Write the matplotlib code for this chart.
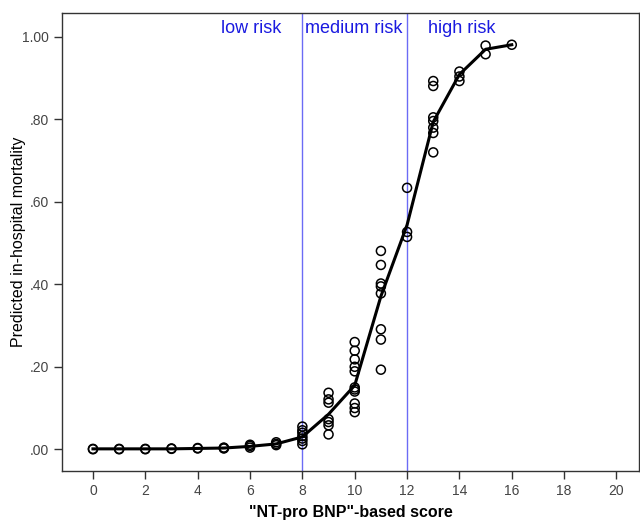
import numpy as np
import matplotlib.pyplot as plt
from matplotlib.ticker import FuncFormatter

plt.rcParams['font.family'] = ['Liberation Sans', 'DejaVu Sans']

# observed predicted mortality per score
score_pts = ([0, 0, 1, 1, 2, 2, 3, 3, 4, 4, 5, 5, 5]
             + [6, 6, 6, 7, 7, 7]
             + [8] * 7 + [9] * 7 + [10] * 11 + [11] * 8
             + [12] * 3 + [13] * 7 + [14] * 3 + [15] * 2 + [16])
mort_pts = ([0.0, 0.001, 0.0, 0.001, 0.0, 0.001, 0.001, 0.002, 0.002, 0.003, 0.002, 0.003, 0.004]
            + [0.004, 0.008, 0.011, 0.010, 0.013, 0.017]
            + [0.012, 0.020, 0.026, 0.032, 0.040, 0.046, 0.055]
            + [0.137, 0.121, 0.113, 0.073, 0.066, 0.058, 0.036]
            + [0.260, 0.239, 0.218, 0.200, 0.189, 0.150, 0.145, 0.140, 0.111, 0.100, 0.090]
            + [0.481, 0.447, 0.402, 0.395, 0.378, 0.291, 0.266, 0.193]
            + [0.634, 0.527, 0.515]
            + [0.893, 0.881, 0.805, 0.796, 0.780, 0.767, 0.720]
            + [0.916, 0.904, 0.893]
            + [0.979, 0.958]
            + [0.981])

# mean curve
score_line = [0, 1, 2, 3, 4, 5, 6, 7, 8, 9, 10, 11, 12, 13, 14, 15, 16]
mort_line = [0.001, 0.001, 0.001, 0.001, 0.002, 0.003, 0.007, 0.013, 0.030, 0.085,
             0.155, 0.371, 0.544, 0.794, 0.909, 0.970, 0.981]

cutoffs = [8, 12]
risk_labels = ['low risk', 'medium risk', 'high risk']
risk_label_x = [6.05, 9.96, 14.1]

fig = plt.figure(figsize=(6.4, 5.2), dpi=100)
ax = fig.add_axes([0.097, 0.094, 0.901, 0.881])

for c in cutoffs:
    ax.axvline(c, color='#6b6bf5', lw=1.0, zorder=1)

ax.plot(score_line, mort_line, color='black', lw=2.2, zorder=2)
ax.scatter(score_pts, mort_pts, s=42, facecolors='none', edgecolors='black',
           linewidths=1.1, zorder=3)

for lab, xp in zip(risk_labels, risk_label_x):
    ax.text(xp, 1.02, lab, color='#1a1ae0', fontsize=13, ha='center', va='center')

ax.set_xlim(-1.18, 20.85)
ax.set_ylim(-0.053, 1.058)
ax.set_xticks(np.arange(0, 21, 2))
ax.set_yticks([0, 0.2, 0.4, 0.6, 0.8, 1.0])
ax.yaxis.set_major_formatter(FuncFormatter(lambda v, p: ('%.2f' % v).lstrip('0')))
ax.tick_params(direction='out', length=6, width=1, colors='#333333',
               labelsize=10, labelcolor='#444444')
for s in ax.spines.values():
    s.set_color('#333333')
    s.set_linewidth(1.0)

ax.set_ylabel('Predicted in-hospital mortality', fontsize=11.5)
ax.set_xlabel('"NT-pro BNP"-based score', fontsize=11.5, fontweight='bold')
ax.yaxis.set_label_coords(-0.076, 0.5)
ax.xaxis.set_label_coords(0.5, -0.09)
ax.xaxis.label.set_va('center')
ax.yaxis.label.set_va('center')

fig.savefig('out.png', dpi=100)
